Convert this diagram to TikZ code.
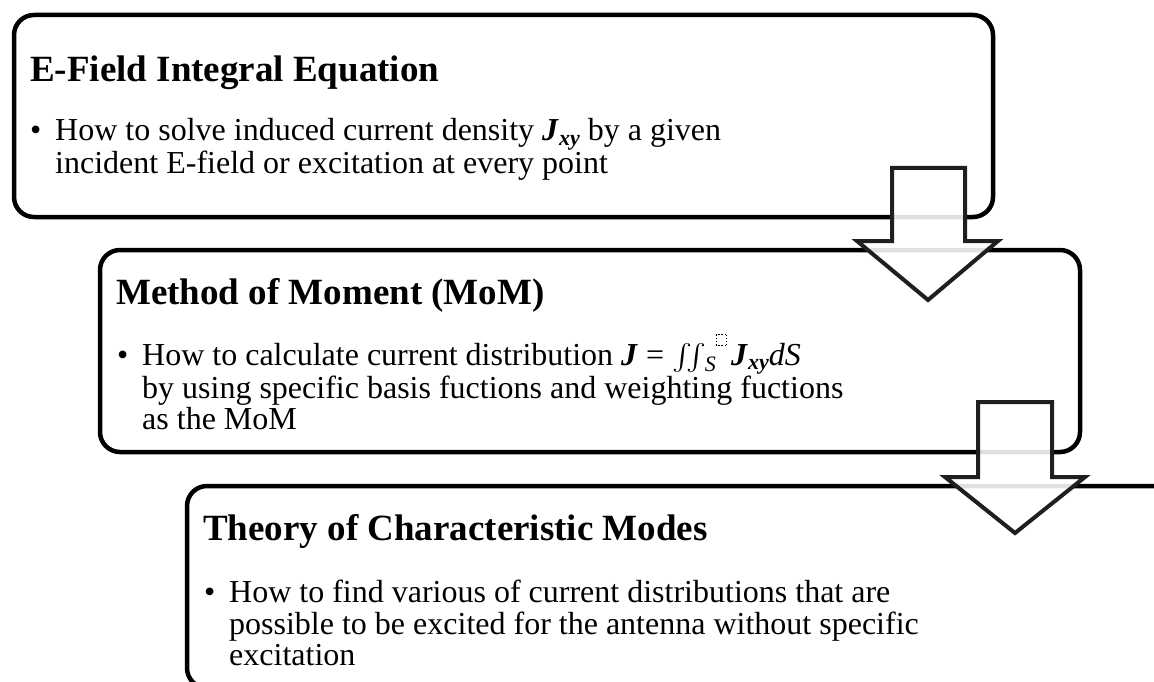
\documentclass[tikz,border=0pt]{standalone}
\usepackage{fontspec}
\setmainfont{Liberation Serif}
\usepackage{amsmath}
\newcommand\BJ{\textbf{\textit{J}}}
\newcommand\Jxy{\textbf{\textit{J}}\raisebox{-0.14em}{\fontsize{22}{22}\selectfont\textbf{\textit{xy}}}}
\newcommand\phbox{{\setlength{\unitlength}{1pt}\begin{picture}(10,11)\dashbox{1.5}(10,11){}\end{picture}}}
\newcommand\Integ{\raisebox{0.02em}{\scalebox{1.2}[1.05]{$\iint$}}\hspace{-2pt}\raisebox{-0.2em}{\fontsize{22}{22}\selectfont\textit{S}}\raisebox{0.62em}{\phbox}}
\begin{document}
\begin{tikzpicture}[x=1pt,y=-1pt,
  box/.style={draw=black,line width=4.5pt,rounded corners=20pt},
  arr/.style={draw=black!88,line width=4pt,fill=white,fill opacity=0.88,line join=miter},
  ttl/.style={anchor=base west,inner sep=0pt,font=\fontsize{37}{38}\selectfont\bfseries},
  txt/.style={anchor=base west,inner sep=0pt,font=\fontsize{32}{33}\selectfont},
]
\useasboundingbox (0,0) rectangle (1154,682);
\clip (0,0) rectangle (1154,682);
% boxes
\draw[box] (14,15) rectangle (993,217);
\draw[box] (100,250) rectangle (1080,452);
\draw[box] (187,486) rectangle (1175,688);
% box 1 text
\node[ttl] (t1) at (30,82) {E-Field Integral Equation};
\node[txt] (b1) at (30,141) {•};
\node[txt] (l11) at (55,141) {How to solve induced current density \Jxy{} by a given};
\node[txt] (l12) at (55,173) {incident E-field or excitation at every point};
% box 2 text
\node[ttl] (t2) at (116,304) {Method of Moment (MoM)};
\node[txt] (b2) at (117,365) {•};
\node[txt] (l21) at (142,365) {How to calculate current distribution \BJ{} = \Integ\,\Jxy\textit{dS}};
\node[txt] (l22) at (142,398) {by using specific basis fuctions and weighting fuctions};
\node[txt] (l23) at (142,429) {as the MoM};
% box 3 text
\node[ttl] (t3) at (203,540) {Theory of Characteristic Modes};
\node[txt] (b3) at (204,602) {•};
\node[txt] (l31) at (229,602) {How to find various of current distributions that are};
\node[txt] (l32) at (229,634) {possible to be excited for the antenna without specific};
\node[txt] (l33) at (229,665) {excitation};
% arrows
\draw[arr] (892,168) -- (965,168) -- (965,241) -- (998,241) -- (928,300) -- (857,241) -- (892,241) -- cycle;
\draw[arr] (978,402) -- (1052,402) -- (1052,477) -- (1085,477) -- (1015,533) -- (945,477) -- (978,477) -- cycle;
\end{tikzpicture}
\end{document}
